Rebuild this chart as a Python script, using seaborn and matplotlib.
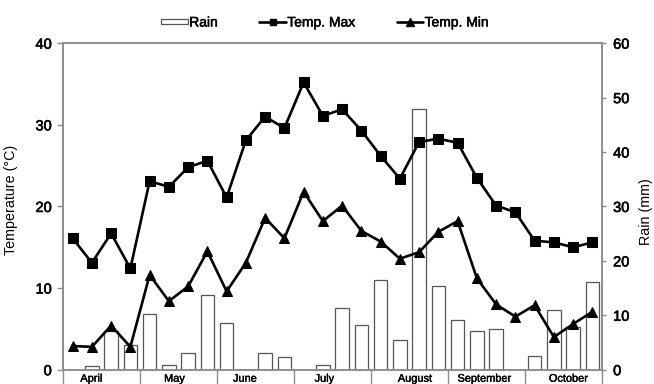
import numpy as np
import pandas as pd
import matplotlib
matplotlib.use("Agg")
import matplotlib.pyplot as plt
import matplotlib.transforms as mtransforms
import matplotlib.patheffects as pe
import seaborn as sns
from matplotlib.patches import Rectangle
from matplotlib.lines import Line2D
from matplotlib.legend_handler import HandlerPatch

# ---------------- data ----------------
months = ["April", "May", "June", "July", "August", "September", "October"]
weeks_per_month = 4
temp_max = [16.1, 13.1, 16.7, 12.4, 23.1, 22.4, 24.8, 25.6, 21.1, 28.1, 31.0, 29.6,
            35.2, 31.1, 31.9, 29.3, 26.2, 23.4, 27.9, 28.3, 27.8, 23.5, 20.1, 19.3,
            15.8, 15.6, 15.0, 15.6]
temp_min = [2.9, 2.8, 5.4, 2.8, 11.6, 8.4, 10.2, 14.5, 9.6, 13.1, 18.6, 16.1,
            21.8, 18.2, 20.1, 17.0, 15.7, 13.6, 14.4, 16.9, 18.2, 11.2, 8.0, 6.5,
            7.9, 4.0, 5.6, 7.1]
rain = [0, 0.7, 7.1, 4.5, 10.3, 0.8, 3.1, 13.8, 8.5, 0, 3.0, 2.3,
        0, 0.9, 11.3, 8.3, 16.5, 5.4, 48.0, 15.4, 9.2, 7.1, 7.5, 0,
        2.6, 11.0, 7.8, 16.1]
temp_ticks = [0, 10, 20, 30, 40]
rain_ticks = [0, 10, 20, 30, 40, 50, 60]

n = len(rain)
df = pd.DataFrame({"week": np.arange(n), "rain": rain,
                   "tmax": temp_max, "tmin": temp_min})

# ---------------- style ----------------
sns.set_style("white")
plt.rcParams["font.family"] = ["Liberation Sans", "DejaVu Sans"]
GRAY = "#8a8a8a"
TXT = "#000000"
HEAVY = [pe.withStroke(linewidth=0.45, foreground=TXT)]

W, H = 654, 384
fig = plt.figure(figsize=(W / 100, H / 100), dpi=100)
L, R, T, B = 63, 602, 43.2, 369.7
ax = fig.add_axes([L / W, 1 - B / H, (R - L) / W, (B - T) / H])
ax2 = ax.twinx()
ax.set_zorder(ax2.get_zorder() + 1)
ax.patch.set_visible(False)

# rain bars (right axis)
sns.barplot(data=df, x="week", y="rain", ax=ax2, color="white", saturation=1,
            edgecolor="#555555", linewidth=0.9, width=0.69, errorbar=None)

# temperature lines (left axis)
sns.lineplot(data=df, x="week", y="tmax", ax=ax, color="black", marker="s",
             markersize=6.8, linewidth=1.9, markeredgecolor="black")
sns.lineplot(data=df, x="week", y="tmin", ax=ax, color="black", marker="^",
             markersize=7.5, linewidth=1.9, markeredgecolor="black")

ax.set_xlim(-0.5, n - 0.5)
ax.set_ylim(0, 40)
ax2.set_ylim(0, 60)

# y axes
ax.set_yticks(temp_ticks)
ax2.set_yticks(rain_ticks)
ax.tick_params(axis="y", direction="out", length=4.5, width=1, color=GRAY,
               labelsize=10.5, pad=3.5, labelcolor=TXT, left=True)
ax2.tick_params(axis="y", direction="out", length=3, width=1, color=GRAY,
                labelsize=10.5, pad=5, labelcolor=TXT, right=True)
for lab in ax.get_yticklabels() + ax2.get_yticklabels():
    lab.set_path_effects(HEAVY)
ax.set_ylabel("Temperature (°C)", fontsize=10.3, color=TXT)
ax.yaxis.set_label_coords((18 - L) / (R - L), (B - 200) / (B - T))
ax2.set_ylabel("Rain (mm)", fontsize=10.3, color=TXT)
ax2.yaxis.set_label_coords((639 - L) / (R - L), (B - 212) / (B - T))

# x axis: month separators + month labels
seps = np.arange(0, n + 1, weeks_per_month) - 0.5
ax.set_xticks(seps)
ax.set_xticklabels([])
ax.tick_params(axis="x", direction="out", length=14, width=1, color=GRAY, bottom=True)
ax.set_xlabel("")
ax2.set_xlabel("")
month_label_x = [0.98, 5.29, 8.95, 13.08, 17.79, 21.4, 25.76]
trans = mtransforms.blended_transform_factory(ax.transData, ax.transAxes)
for m, xpos in zip(months, month_label_x):
    t = ax.text(xpos, -4.0 / (B - T), m, transform=trans, ha="center", va="top",
                fontsize=7.9, color=TXT)
    t.set_path_effects([pe.withStroke(linewidth=0.3, foreground=TXT)])

for a in (ax, ax2):
    for s in a.spines.values():
        s.set_visible(True)
        s.set_color(GRAY)
        s.set_linewidth(1.1)

# legend
def thin_rect(legend, orig_handle, xdescent, ydescent, width, height, fontsize):
    return Rectangle((-xdescent, -ydescent + height * 0.22), width, height * 0.55)

handles = [
    Rectangle((0, 0), 1, 1, facecolor="white", edgecolor="#555555", linewidth=0.9),
    Line2D([], [], color="black", marker="s", markersize=5, linewidth=1.9),
    Line2D([], [], color="black", marker="^", markersize=5.5, linewidth=1.9),
]
leg = fig.legend(handles, ["Rain", "Temp. Max", "Temp. Min"], loc="center",
                 bbox_to_anchor=(325 / W, 1 - 22.5 / H), ncol=3, frameon=False,
                 fontsize=10, handlelength=1.9, handletextpad=0.1, columnspacing=3.0,
                 handler_map={Rectangle: HandlerPatch(patch_func=thin_rect)},
                 labelcolor=TXT)
for t in leg.get_texts():
    t.set_path_effects([pe.withStroke(linewidth=0.35, foreground=TXT)])

fig.savefig("out.png", dpi=100)
